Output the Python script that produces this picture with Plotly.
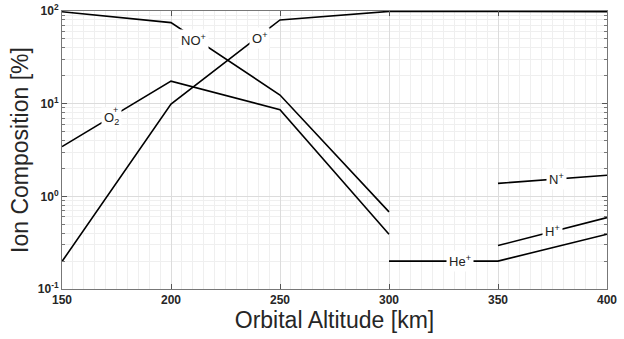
import math
import plotly.graph_objects as go

alt_no = [150, 200, 250, 300]
no_plus = [98, 75, 12.4, 0.68]
alt_o2 = [150, 200, 250, 300]
o2_plus = [3.44, 17.5, 8.6, 0.39]
alt_o = [150, 200, 250, 300, 350, 400]
o_plus = [0.198, 9.9, 80, 99, 99, 98.5]
alt_he = [300, 350, 400]
he_plus = [0.2, 0.2, 0.39]
alt_h = [350, 400]
h_plus = [0.294, 0.59]
alt_n = [350, 400]
n_plus = [1.38, 1.69]

labels = ["NO<sup>+</sup>", "O<sup>+</sup>", "O<sub>2</sub>", "N<sup>+</sup>", "H<sup>+</sup>", "He<sup>+</sup>"]
label_x = [210.5, 240.4, 172.5, 377, 374.8, 332.6]
label_y = [49, 51, 7.0, 1.52, 0.424, 0.201]

xticks = [150, 200, 250, 300, 350, 400]
yticks = [0.1, 1, 10, 100]
yticktext = ["10<sup>-1</sup>", "10<sup>0</sup>", "10<sup>1</sup>", "10<sup>2</sup>"]
yminor = [m * 10 ** e for e in (-1, 0, 1) for m in range(2, 10)]

fig = go.Figure()
for xs, ys in [(alt_no, no_plus), (alt_o2, o2_plus), (alt_o, o_plus),
               (alt_he, he_plus), (alt_h, h_plus), (alt_n, n_plus)]:
    fig.add_trace(go.Scatter(x=xs, y=ys, mode="lines",
                             line=dict(color="black", width=1.6),
                             showlegend=False, hoverinfo="skip"))

for t, lx, ly in zip(labels, label_x, label_y):
    fig.add_annotation(x=lx, y=math.log10(ly), yref="y", xref="x", text=t, showarrow=False,
                       font=dict(family="Liberation Sans, Arial", size=13, color="#222"),
                       bgcolor="white", borderpad=2)

# stacked "+" above the subscript 2 of the O2+ label
fig.add_annotation(x=label_x[2], y=math.log10(label_y[2]), yref="y", xref="x",
                   text="+", showarrow=False, xshift=4, yshift=8,
                   font=dict(family="Liberation Sans, Arial", size=9, color="#222"))

fig.update_layout(
    width=624, height=339,
    margin=dict(l=62, r=17, t=11, b=50, autoexpand=False),
    paper_bgcolor="white", plot_bgcolor="white",
    font=dict(family="Liberation Sans, Arial", color="#262626"),
)
fig.update_xaxes(
    range=[150, 400], tickvals=xticks,
    ticktext=[f"<b>{v}</b>" for v in xticks],
    tickfont=dict(size=12, color="#262626"),
    ticks="inside", ticklen=5, tickcolor="#555",
    showline=True, linecolor="#777", linewidth=1, mirror="ticks",
    showgrid=True, gridcolor="#dcdcdc", gridwidth=1,
    minor=dict(dtick=5, showgrid=True, gridcolor="#efefef", ticks=""),
    zeroline=False, automargin=False,
    title=dict(text="Orbital Altitude [km]", font=dict(size=23, color="#262626"), standoff=2),
)
fig.update_yaxes(
    type="log", range=[-1, 2.0], tickvals=yticks, ticktext=[f"<b>{t}</b>" for t in yticktext],
    tickfont=dict(size=12, color="#262626"),
    ticks="inside", ticklen=5, tickcolor="#555",
    showline=True, linecolor="#777", linewidth=1, mirror="ticks",
    showgrid=True, gridcolor="#dcdcdc", gridwidth=1,
    minor=dict(tickvals=yminor, showgrid=True, gridcolor="#efefef", ticks="inside", ticklen=3, tickcolor="#777"),
    zeroline=False, automargin=False,
    title=dict(text="Ion Composition [%]", font=dict(size=23, color="#262626"), standoff=2),
)

fig.write_html("out.html")
